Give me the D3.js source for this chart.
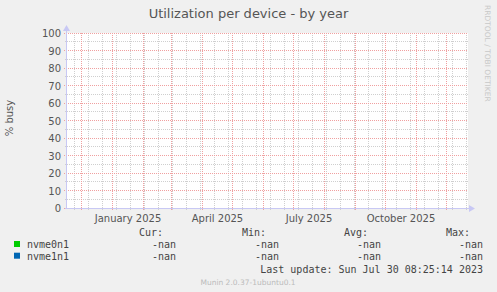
<!DOCTYPE html>
<html>
<head>
<meta charset="utf-8">
<script src="https://cdn.jsdelivr.net/npm/d3@7"></script>
<style>
  body { margin: 0; background: #f0f0f0; }
  svg { display: block; }
  text { font-family: "DejaVu Sans", sans-serif; }
  .mono { font-family: "DejaVu Sans Mono", monospace; }
</style>
</head>
<body>
<script>
var width = 497;
var height = 292;

// chart data (all samples are unknown -> nothing gets drawn)
var seriesNames = ["nvme0n1", "nvme1n1"];
var seriesColors = ["#00cc00", "#0066b3"];
var seriesValues = [[], []];
var legendCols = ["Cur:", "Min:", "Avg:", "Max:"];
var legendValues = [["-nan", "-nan", "-nan", "-nan"], ["-nan", "-nan", "-nan", "-nan"]];
var yTicks = [0, 10, 20, 30, 40, 50, 60, 70, 80, 90, 100];
var xLabels = ["January 2025", "April 2025", "July 2025", "October 2025"];
var xLabelMonths = [new Date(Date.UTC(2025, 0, 1)), new Date(Date.UTC(2025, 3, 1)),
                    new Date(Date.UTC(2025, 6, 1)), new Date(Date.UTC(2025, 9, 1))];
var tStart = new Date(Date.UTC(2024, 10, 16, 12));
var tEnd = new Date(Date.UTC(2025, 11, 22, 12));

var plot = {left: 67, right: 468, top: 33, bottom: 208};

var svg = d3.select("body").append("svg")
    .attr("width", width)
    .attr("height", height);

var x = d3.scaleUtc()
    .domain([tStart, tEnd])
    .range([plot.left, plot.right]);

var y = d3.scaleLinear()
    .domain([0, 100])
    .range([plot.bottom, plot.top]);

function px(v) { return Math.floor(v) + 0.5; }

svg.append("rect")
    .attr("x", plot.left).attr("y", plot.top)
    .attr("width", plot.right - plot.left).attr("height", plot.bottom - plot.top + 1)
    .attr("fill", "#ffffff");

// minor grid
var minorX = d3.utcDay.range(new Date(Date.UTC(2024, 10, 24)), tEnd, 14);
var minorY = d3.range(5, 100, 10);
var grid = svg.append("g").attr("stroke-dasharray", "1,1").attr("fill", "none");

grid.selectAll(".mx").data(minorX).enter().append("line")
    .attr("x1", function(d) { return px(x(d)); })
    .attr("x2", function(d) { return px(x(d)); })
    .attr("y1", plot.top).attr("y2", plot.bottom + 2)
    .attr("stroke", "#cfcfcf");

grid.selectAll(".my").data(minorY).enter().append("line")
    .attr("y1", function(d) { return px(y(d)); })
    .attr("y2", function(d) { return px(y(d)); })
    .attr("x1", plot.left - 2).attr("x2", plot.right)
    .attr("stroke", "#cfcfcf");

// major grid
var months = d3.utcMonth.range(tStart, tEnd);
grid.selectAll(".Mx").data(months).enter().append("line")
    .attr("x1", function(d) { return px(x(d)); })
    .attr("x2", function(d) { return px(x(d)); })
    .attr("y1", plot.top).attr("y2", plot.bottom + 3)
    .attr("stroke", "#f0a0a0");

grid.selectAll(".My").data(yTicks).enter().append("line")
    .attr("y1", function(d) { return px(y(d)); })
    .attr("y2", function(d) { return px(y(d)); })
    .attr("x1", plot.left - 3).attr("x2", plot.right)
    .attr("stroke", "#f0a0a0");

// series lines (no known values)
var line = d3.line()
    .defined(function(d) { return d[1] != null && !isNaN(d[1]); })
    .x(function(d) { return x(d[0]); })
    .y(function(d) { return y(d[1]); });

seriesValues.forEach(function(vals, i) {
  svg.append("path")
      .datum(vals)
      .attr("fill", "none")
      .attr("stroke", seriesColors[i])
      .attr("d", line);
});

// axes
var axisCol = "#c8c8f4";
svg.append("line")
    .attr("x1", plot.left - 0.5).attr("x2", plot.left - 0.5)
    .attr("y1", plot.bottom + 1).attr("y2", 30)
    .attr("stroke", axisCol);
svg.append("path")
    .attr("d", "M" + (plot.left - 4) + ",31L" + (plot.left - 0.5) + ",25L" + (plot.left + 3) + ",31Z")
    .attr("fill", axisCol);
svg.append("line")
    .attr("x1", plot.left - 2).attr("x2", 471)
    .attr("y1", plot.bottom + 0.5).attr("y2", plot.bottom + 0.5)
    .attr("stroke", axisCol);
svg.append("path")
    .attr("d", "M469," + (plot.bottom - 3) + "L475," + (plot.bottom + 0.5) + "L469," + (plot.bottom + 4) + "Z")
    .attr("fill", axisCol);

// y tick labels
svg.selectAll(".yl").data(yTicks).enter().append("text")
    .attr("x", 61)
    .attr("y", function(d) { return y(d) + 4; })
    .attr("text-anchor", "end")
    .attr("font-size", 10)
    .attr("fill", "#555")
    .text(function(d) { return d; });

// x tick labels, centred in their month
svg.selectAll(".xl").data(xLabels).enter().append("text")
    .attr("x", function(d, i) {
      var m = xLabelMonths[i];
      return (x(m) + x(d3.utcMonth.offset(m, 1))) / 2;
    })
    .attr("y", 222)
    .attr("text-anchor", "middle")
    .attr("font-size", 10)
    .attr("fill", "#555")
    .text(function(d) { return d; });

// title
svg.append("text")
    .attr("x", 248.5).attr("y", 18)
    .attr("text-anchor", "middle")
    .attr("font-size", 13)
    .attr("fill", "#555")
    .text("Utilization per device - by year");

// y axis title
svg.append("text")
    .attr("transform", "translate(13,118) rotate(-90)")
    .attr("text-anchor", "middle")
    .attr("font-size", 10)
    .attr("fill", "#555")
    .text("% busy");

// watermark
svg.append("text")
    .attr("transform", "translate(485,5) rotate(90)")
    .attr("font-size", 7.5)
    .attr("fill", "#c8c8c8")
    .text("RRDTOOL / TOBI OETIKER");

// legend
var colRight = [163, 266, 368, 470];
var valRight = [176, 279, 381, 483];

svg.selectAll(".lh").data(legendCols).enter().append("text")
    .attr("class", "mono")
    .attr("x", function(d, i) { return colRight[i]; })
    .attr("y", 236)
    .attr("text-anchor", "end")
    .attr("font-size", 10)
    .attr("fill", "#444")
    .text(function(d) { return d; });

seriesNames.forEach(function(name, i) {
  var yy = 248 + i * 11.7;
  svg.append("rect")
      .attr("x", 14).attr("y", yy - 7)
      .attr("width", 6).attr("height", 6)
      .attr("fill", seriesColors[i]);
  svg.append("text")
      .attr("class", "mono")
      .attr("x", 27).attr("y", yy)
      .attr("font-size", 10)
      .attr("fill", "#444")
      .text(name);
  svg.selectAll(".lv" + i).data(legendValues[i]).enter().append("text")
      .attr("class", "mono")
      .attr("x", function(d, j) { return valRight[j]; })
      .attr("y", yy)
      .attr("text-anchor", "end")
      .attr("font-size", 10)
      .attr("fill", "#444")
      .text(function(d) { return d; });
});

svg.append("text")
    .attr("class", "mono")
    .attr("x", 483).attr("y", 272.5)
    .attr("text-anchor", "end")
    .attr("font-size", 10)
    .attr("fill", "#444")
    .text("Last update: Sun Jul 30 08:25:14 2023");

svg.append("text")
    .attr("x", 248).attr("y", 285)
    .attr("text-anchor", "middle")
    .attr("font-size", 7.5)
    .attr("fill", "#bbb")
    .text("Munin 2.0.37-1ubuntu0.1");
</script>
</body>
</html>
